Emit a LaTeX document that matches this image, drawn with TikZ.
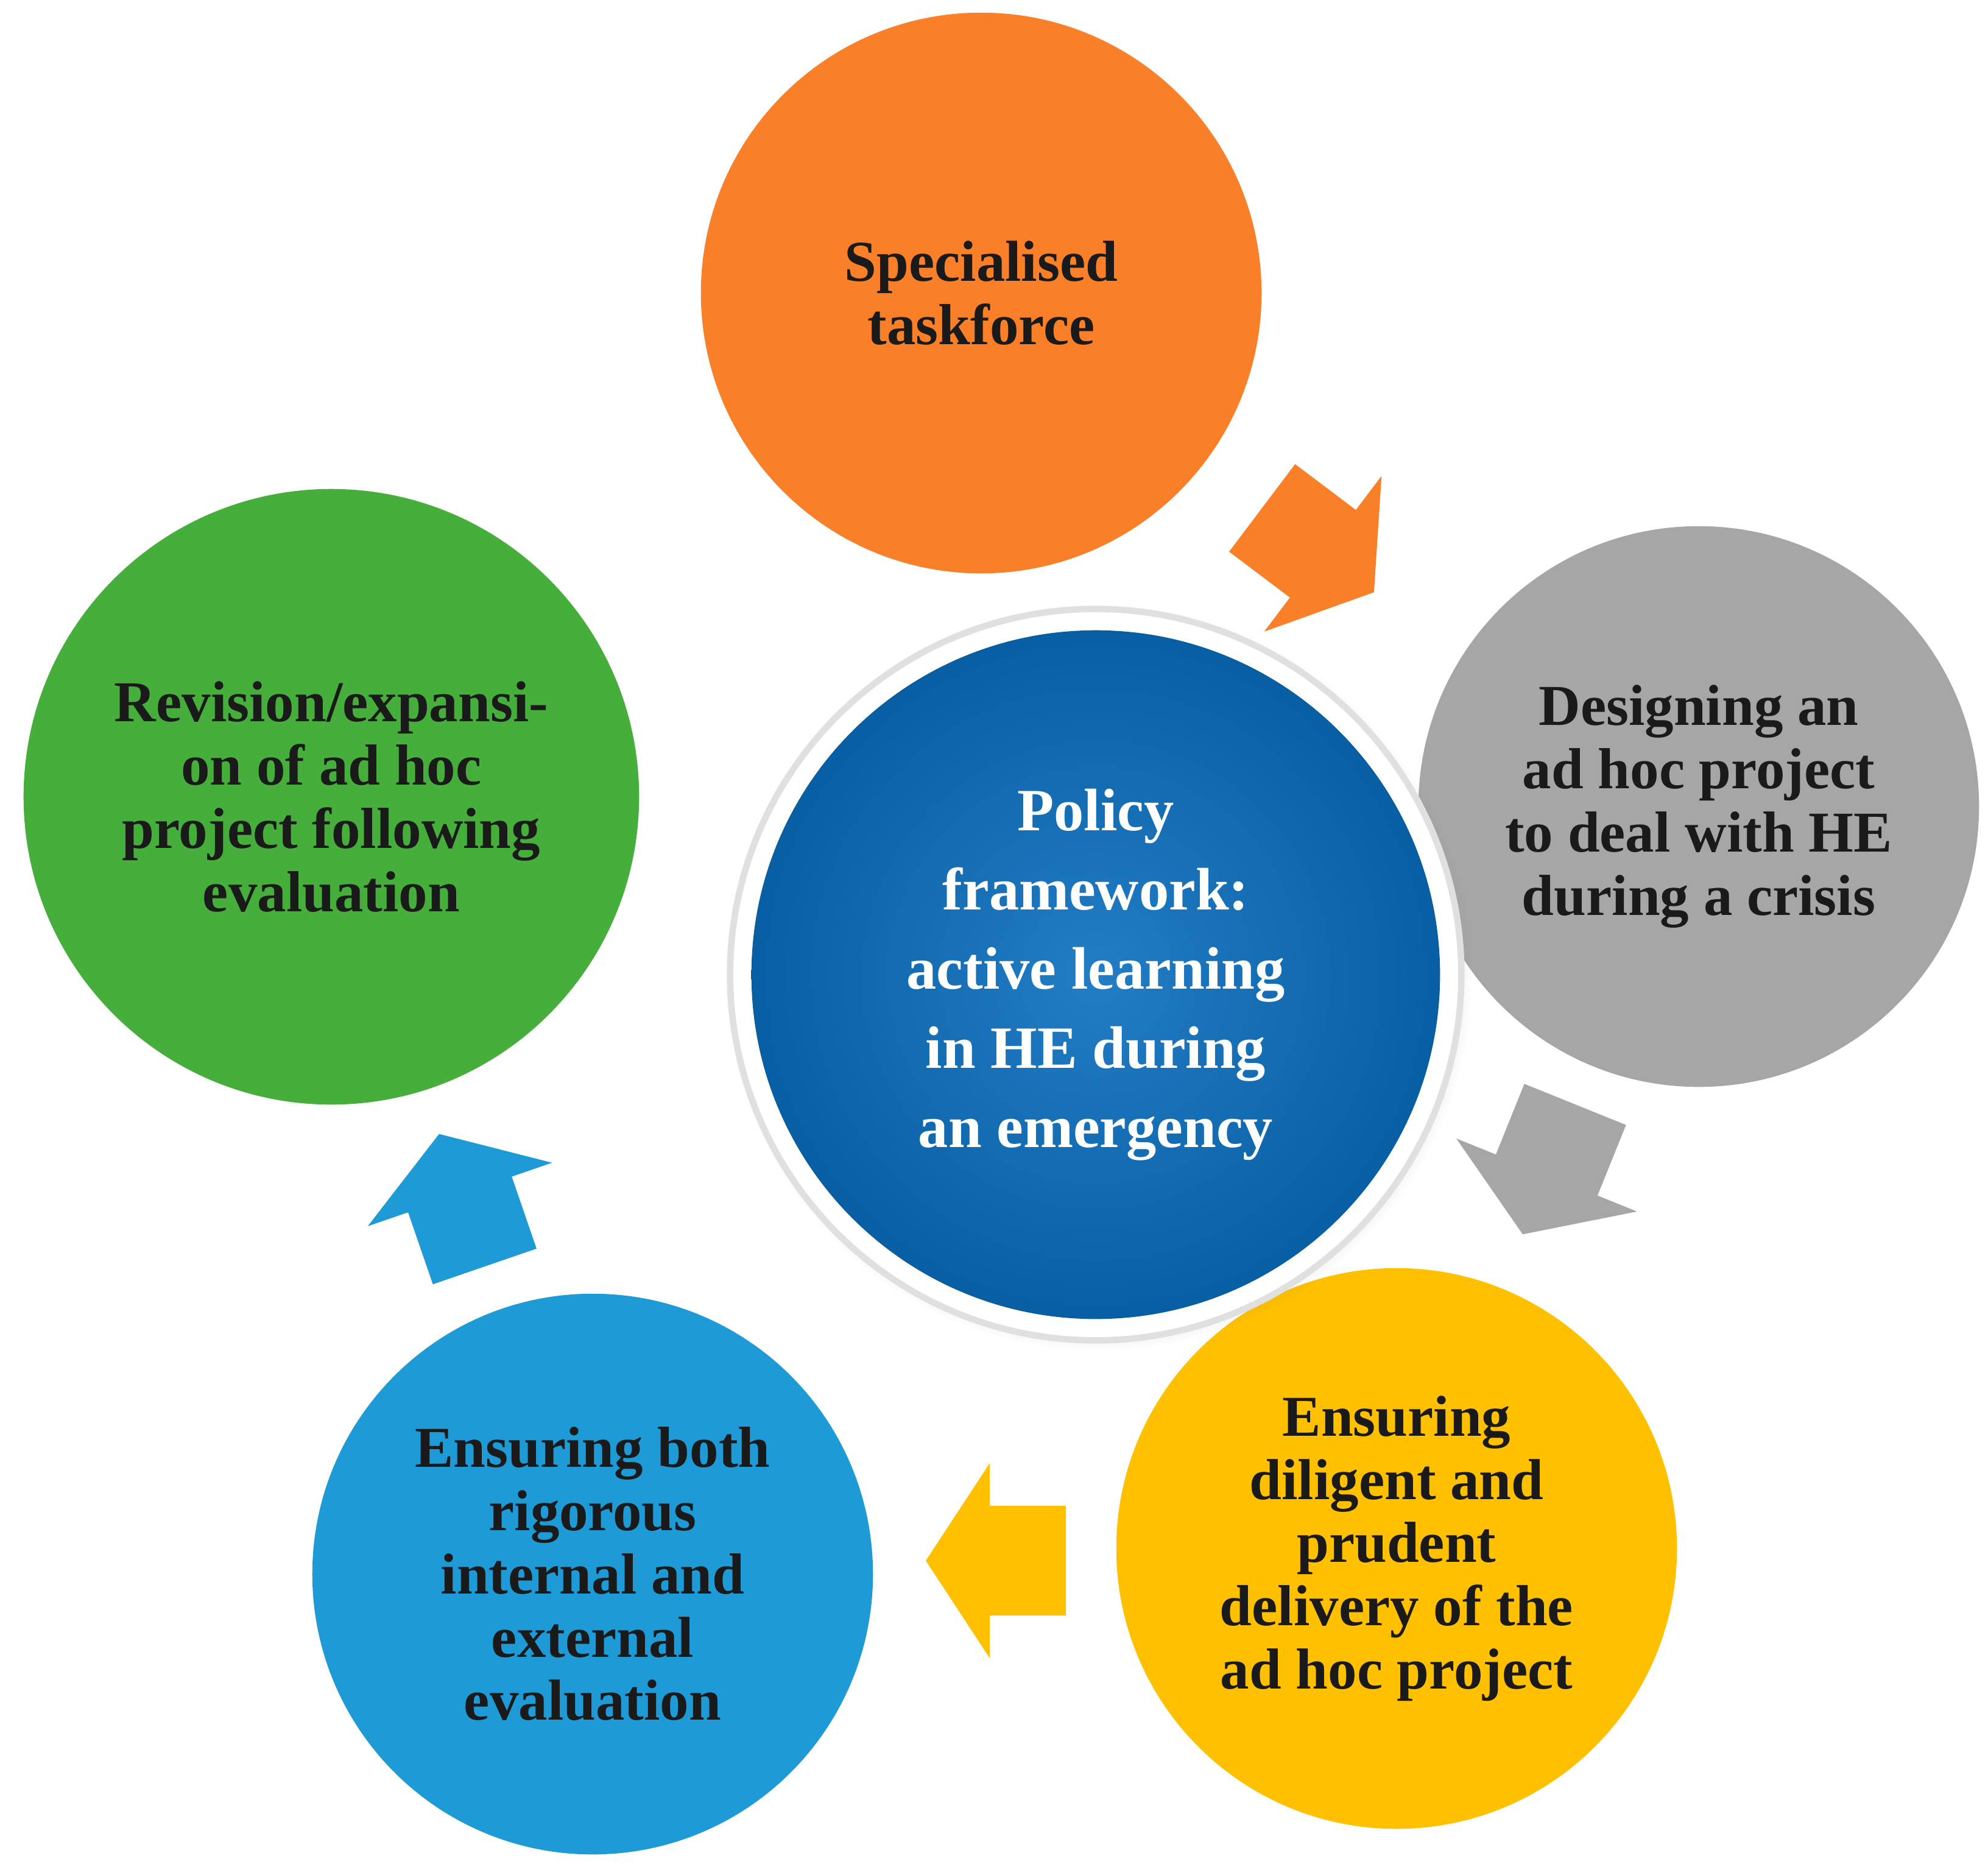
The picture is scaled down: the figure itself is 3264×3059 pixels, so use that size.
\documentclass[tikz,border=0pt]{standalone}
\usepackage{fontspec}
\setmainfont{Liberation Serif}
\usetikzlibrary{shadows}
\definecolor{corange}{HTML}{F98028}
\definecolor{cgray}{HTML}{A6A6A6}
\definecolor{cyellow}{HTML}{FFC000}
\definecolor{cblue}{HTML}{1E9AD6}
\definecolor{cgreen}{HTML}{46AE3A}
\definecolor{ccenter}{HTML}{0A6FBF}
\definecolor{ctext}{HTML}{1A1A1A}
\begin{document}
\begin{tikzpicture}[x=0.01cm,y=-0.01cm,
  bub/.style={circle,minimum size=9.2cm,inner sep=0,align=center,text=ctext,font=\fontsize{27}{29.5}\selectfont\bfseries}]
\useasboundingbox (0,0) rectangle (3264,3059);
% circles
\node[bub,fill=corange] (o) at (1611,481) {Specialised\\taskforce};
\node[bub,fill=cgray] (g) at (2789,1324) {Designing an\\ad hoc project\\to deal with HE\\during a crisis};
\node[bub,fill=cyellow] (y) at (2293,2542) {Ensuring\\diligent and\\prudent\\delivery of the\\ad hoc project};
\node[bub,fill=cblue] (b) at (973,2584) {Ensuring both\\rigorous\\internal and\\external\\evaluation};
\node[bub,fill=cgreen,minimum size=10.1cm] (gr) at (544,1308) {Revision/expansi-\\on of ad hoc\\project following\\evaluation};
% center
\node[circle,minimum size=12cm,fill=white,draw=black!12,line width=3pt,circular drop shadow={shadow scale=1.02,opacity=0.35}] (cw) at (1799,1600) {};
\node[circle,minimum size=11.3cm,inner sep=0,align=center,text=white,
  inner color=ccenter!90!white,outer color=ccenter!85!black,
  font=\fontsize{28}{37}\selectfont\bfseries] (c) at (1799,1600) {Policy\\framework:\\active learning\\in HE during\\an emergency};
% block arrows
\foreach \px/\py/\ang/\col in {2160/900/-37/corange, 2545/1915/-112/cgray, 1640/2562/180/cyellow, 760/1975/109/cblue}{
  \fill[\col,shift={(\px,\py)},rotate=\ang]
    (-110,-90)--(15,-90)--(15,-160)--(120,0)--(15,160)--(15,90)--(-110,90)--cycle;
}
\end{tikzpicture}
\end{document}
